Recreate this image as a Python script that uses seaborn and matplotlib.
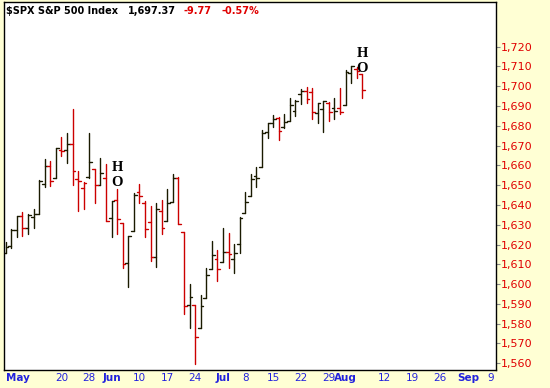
import numpy as np
import pandas as pd
import matplotlib
matplotlib.use("Agg")
import matplotlib.pyplot as plt
from matplotlib.ticker import FuncFormatter
import seaborn as sns

# ---- data ----
opens = [1615.6, 1619.3, 1627.4, 1634.5, 1628.6, 1634.0, 1635.3, 1650.6, 1659.9, 1653.8,
         1667.8, 1667.8, 1670.8, 1653.0, 1648.4, 1654.0, 1658.2, 1650.1, 1653.5, 1633.3,
         1642.5, 1630.8, 1610.5, 1626.9, 1646.4, 1640.9, 1631.6, 1613.6, 1637.0, 1631.9,
         1641.4, 1653.5, 1626.5, 1589.5, 1589.5, 1577.7, 1592.9, 1607.5, 1612.6, 1611.1,
         1616.0, 1612.6, 1620.3, 1635.8, 1644.6, 1654.7, 1659.1, 1677.1, 1681.3, 1683.8,
         1679.3, 1682.5, 1687.5, 1695.9, 1697.6, 1697.3, 1686.7, 1688.4, 1691.7, 1688.9,
         1688.9, 1690.6, 1706.6, 1708.6, 1706.2]
highs = [1621.5, 1627.7, 1634.5, 1636.3, 1635.3, 1637.8, 1652.6, 1663.3, 1662.3, 1669.0,
         1674.5, 1676.6, 1688.5, 1657.2, 1651.8, 1676.2, 1658.2, 1663.6, 1660.7, 1642.0,
         1648.1, 1631.1, 1624.4, 1646.2, 1650.6, 1642.0, 1639.5, 1640.9, 1642.5, 1648.1,
         1655.7, 1654.0, 1626.5, 1600.1, 1589.5, 1594.6, 1608.0, 1621.8, 1617.3, 1628.2,
         1625.7, 1620.3, 1633.8, 1646.8, 1655.7, 1659.4, 1677.9, 1681.6, 1685.5, 1684.3,
         1686.0, 1693.9, 1693.1, 1698.5, 1699.5, 1699.0, 1691.7, 1692.7, 1692.2, 1693.9,
         1699.0, 1708.2, 1710.3, 1709.6, 1706.2]
lows = [1615.6, 1618.1, 1624.0, 1624.5, 1625.2, 1628.2, 1635.3, 1649.3, 1649.8, 1653.8,
        1664.8, 1661.1, 1650.1, 1637.2, 1638.0, 1653.8, 1641.2, 1650.1, 1632.1, 1624.0,
        1625.2, 1608.0, 1598.8, 1626.9, 1640.9, 1624.0, 1611.9, 1608.9, 1625.2, 1631.9,
        1641.4, 1630.4, 1585.0, 1577.7, 1559.7, 1577.7, 1592.9, 1607.5, 1601.8, 1611.1,
        1608.0, 1605.5, 1615.9, 1635.8, 1644.6, 1649.3, 1659.1, 1673.7, 1679.3, 1672.9,
        1678.8, 1682.5, 1685.0, 1690.9, 1691.7, 1683.5, 1681.3, 1677.1, 1682.6, 1683.3,
        1686.0, 1690.6, 1701.8, 1704.0, 1693.9]
closes = [1619.0, 1627.4, 1634.5, 1628.6, 1635.1, 1635.4, 1652.2, 1659.9, 1652.2, 1668.7,
          1667.3, 1670.8, 1657.2, 1652.2, 1651.3, 1661.9, 1650.1, 1656.0, 1632.1, 1642.0,
          1632.8, 1610.0, 1624.4, 1645.1, 1644.6, 1627.7, 1613.6, 1638.0, 1628.2, 1640.9,
          1653.5, 1630.4, 1589.2, 1593.6, 1573.5, 1589.0, 1604.7, 1614.8, 1607.5, 1616.1,
          1615.2, 1615.8, 1633.6, 1641.7, 1653.3, 1653.6, 1676.6, 1681.3, 1683.5, 1677.6,
          1682.1, 1690.6, 1692.7, 1697.6, 1693.4, 1687.2, 1691.7, 1692.7, 1687.2, 1687.5,
          1687.2, 1707.1, 1710.3, 1707.7, 1698.1]
prev_close = 1615.8

holidays = ["2013-05-27", "2013-07-04", "2013-09-02"]
tick_dates = ["2013-05-06", "2013-05-20", "2013-05-28", "2013-06-03", "2013-06-10",
              "2013-06-17", "2013-06-24", "2013-07-01", "2013-07-08", "2013-07-15",
              "2013-07-22", "2013-07-29", "2013-08-01", "2013-08-12", "2013-08-19",
              "2013-08-26", "2013-09-03", "2013-09-09"]
tick_labels = ["May", "20", "28", "Jun", "10", "17", "24", "Jul", "8", "15",
               "22", "29", "Aug", "12", "19", "26", "Sep", "9"]
y_ticks = list(range(1560, 1721, 10))
marker_bars = [20, 64]

title_parts = [("$SPX S&P 500 Index", "black"), ("1,697.37", "black"),
               ("-9.77", "#E00000"), ("-0.57%", "#E00000")]

# ---- calendar of trading days ----
cal = pd.bdate_range("2013-05-06", "2013-09-10")
cal = cal[~cal.isin(pd.to_datetime(holidays))]
pos = {d.strftime("%Y-%m-%d"): i for i, d in enumerate(cal)}

# ---- build OHLC segments ----
n = len(closes)
prevs = [prev_close] + closes[:-1]
rows = []
tw = 0.5
for i in range(n):
    d = "down" if closes[i] < prevs[i] else "up"
    rows += [(3 * i, i, lows[i], d), (3 * i, i, highs[i], d)]
    rows += [(3 * i + 1, i - tw, opens[i], d), (3 * i + 1, i, opens[i], d)]
    rows += [(3 * i + 2, i, closes[i], d), (3 * i + 2, i + tw, closes[i], d)]
seg = pd.DataFrame(rows, columns=["seg", "x", "y", "dir"])

sns.set_style("white")
plt.rcParams["font.family"] = ["DejaVu Sans"]

W, H = 550, 388
fig = plt.figure(figsize=(W / 100, H / 100), dpi=100, facecolor="#FFFFD4")
L, R, T, B = 4, 496, 2, 370
ax = fig.add_axes([L / W, 1 - B / H, (R - L) / W, (B - T) / H])
ax.set_facecolor("white")

pal = {"up": "#1a1a00", "down": "#CC0000"}
sns.lineplot(data=seg, x="x", y="y", hue="dir", units="seg", estimator=None,
             palette=pal, legend=False, sort=False, linewidth=1.0, ax=ax)

ax.set_xlim(-0.3, 88.0)
ax.set_ylim(1556.6, 1742.6)
ax.set_xlabel("")
ax.set_ylabel("")

for s in ax.spines.values():
    s.set_color("black")
    s.set_linewidth(1.0)

ax.yaxis.tick_right()
ax.set_yticks(y_ticks)
ax.yaxis.set_major_formatter(FuncFormatter(lambda v, p: f"{v:,.0f}"))
ax.tick_params(axis="y", which="major", length=3, width=0.8, color="#888888",
               labelcolor="#E00000", labelsize=8, pad=0.5, right=True, left=False)

xt = [pos[d] for d in tick_dates]
ax.set_xticks(xt)
ax.set_xticklabels(tick_labels)
ax.tick_params(axis="x", length=0, pad=2.5, labelcolor="#2222DD", labelsize=7.5)
for lab in ax.get_xticklabels():
    if not lab.get_text().isdigit():
        lab.set_fontweight("bold")
ax.get_xticklabels()[0].set_horizontalalignment("left")

# H / O markers above bars
for b in marker_bars:
    ax.annotate("H", (b, highs[b]), xytext=(0, 21), textcoords="offset pixels",
                ha="center", va="center", fontsize=10.5, fontweight="bold",
                family=["Liberation Serif"], color="black")
    ax.annotate("O", (b, highs[b]), xytext=(0, 6), textcoords="offset pixels",
                ha="center", va="center", fontsize=10.5, fontweight="bold",
                family=["Liberation Serif"], color="black")

# title
xs = [6, 128, 184, 221]
for (txt, col), x0 in zip(title_parts, xs):
    fig.text(x0 / W, 1 - 11 / H, txt, ha="left", va="center", fontsize=7,
             fontweight="bold", color=col)

fig.savefig("out.png", dpi=100, facecolor=fig.get_facecolor())
